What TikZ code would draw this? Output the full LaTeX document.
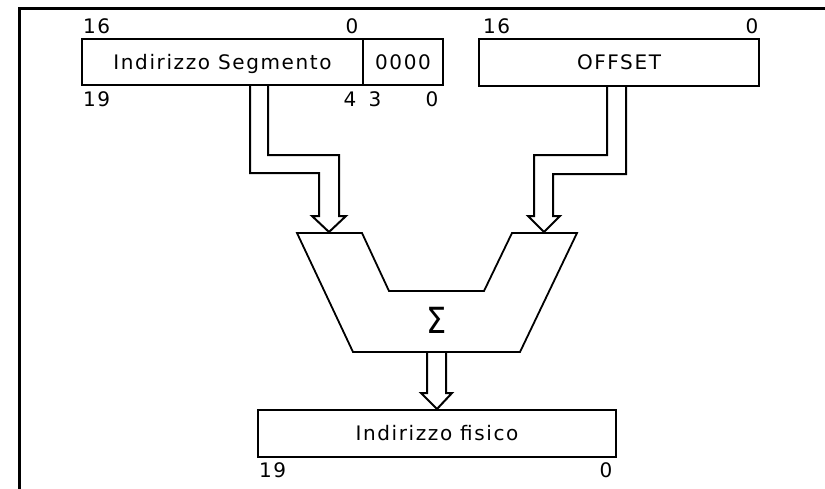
\documentclass[tikz,border=0pt]{standalone}
\usepackage{fontspec}
\setmainfont{DejaVu Sans}[LetterSpace=8]
\usetikzlibrary{calc}
\begin{document}
\begin{tikzpicture}[x=1pt,y=-1pt,line width=2pt,
  font=\fontsize{20}{24}\selectfont,
  box/.style={draw,rectangle,inner sep=0pt,text height=14.6pt,text depth=0pt},
  num/.style={inner sep=0pt,text height=14.6pt,text depth=0pt},
  bus/.style={draw,line width=2pt,line join=miter},
  adder/.style={draw,line width=1.8pt}]
\useasboundingbox (0,0) rectangle (825,488);
% frame
\draw[line width=3pt] (19,495) -- (19,8) -- (830,8);
% registers
\node[box,minimum width=281pt,minimum height=46pt] (seg) at (222.5,62) {Indirizzo Segmento};
\node[box,minimum width=80pt,minimum height=46pt] (zero) at (403,62) {0000};
\node[box,minimum width=280pt,minimum height=47pt] (off) at (619,62.5) {OFFSET};
\node[box,minimum width=358pt,minimum height=47pt] (phys) at (437,433.5) {Indirizzo fisico};
% bit labels
\node[num,anchor=west] (s16) at (82,26.5) {16};
\node[num] (s0) at (352,26.5) {0};
\node[num,anchor=west] (s19) at (82,99) {19};
\node[num] (s4) at (350,99) {4};
\node[num] (s3) at (375,99) {3};
\node[num] (z0) at (432,99) {0};
\node[num,anchor=west] (o16) at (482,26.5) {16};
\node[num] (o0) at (752,26.5) {0};
\node[num,anchor=west] (p19) at (258,470) {19};
\node[num] (p0) at (606,470) {0};
% adder
\draw[adder] (297,233) -- (362,233) -- (389,291) -- (484,291) -- (512,233) -- (577,233) -- (520,352) -- (353,352) -- cycle;
\coordinate (inA) at (329,232);
\coordinate (inB) at (544,232);
\coordinate (outS) at (437,353);
\node[inner sep=0pt] (sigma) at (437,320) {\scalebox{1.6}[1.8]{Σ}};
% buses
\draw[bus] ($(seg.south)+(27.5,0)$) |- (319,173) -- (319,216) -- (312,216) -- (inA) -- (346,216) -- (339,216) |- (268,155) -- ($(seg.south)+(45.5,0)$);
\draw[bus] ($(off.south)+(-12,0)$) |- (534,155) -- (534,216) -- (528,216) -- (inB) -- (560,216) -- (553,216) |- (626,174) -- ($(off.south)+(7,0)$);
\draw[bus] ($(outS)+(-10,0)$) -- (427,393) -- (421,393) -- (phys.north) -- (452,393) -- (446,393) -- ($(outS)+(9,0)$);
\end{tikzpicture}
\end{document}
